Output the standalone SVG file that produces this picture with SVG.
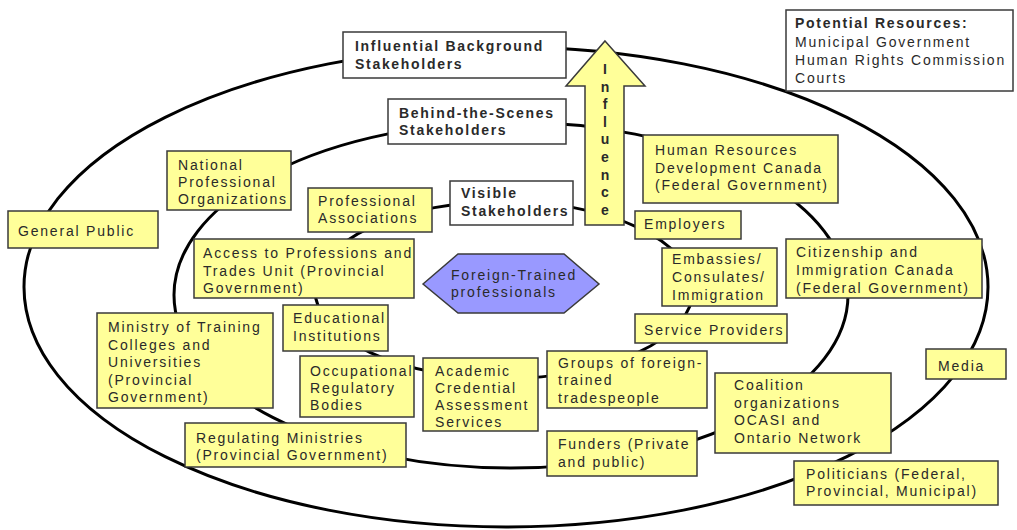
<svg xmlns="http://www.w3.org/2000/svg" width="1017" height="530" viewBox="0 0 1017 530">
<style>
.ring{fill:none;stroke:#000;stroke-width:3}
.box{fill:#ffff99;stroke:#3a3a3a;stroke-width:1.5}
.wbox{fill:#fff;stroke:#3a3a3a;stroke-width:1.5}
.hex{fill:#9999ff;stroke:#3a3a3a;stroke-width:1.5}
text{font-family:"Liberation Sans",Arial,sans-serif;font-size:14px;letter-spacing:1.8px;fill:#2a2a2a}
.b{font-weight:bold;letter-spacing:1.7px}
.v{font-weight:bold;letter-spacing:0;text-anchor:middle}
</style>
<rect width="1017" height="530" fill="#fff"/>
<g id="connectors">
<ellipse class="ring" cx="506" cy="287" rx="482" ry="240"/>
<ellipse class="ring" cx="511" cy="295" rx="337" ry="173"/>
<ellipse class="ring" cx="504" cy="290" rx="189" ry="88.6"/>
</g>
<g id="influential"><rect class="wbox" x="343" y="32" width="223" height="46"/><text class="b" x="355" y="51">Influential Background</text><text class="b" x="355" y="69">Stakeholders</text></g>
<g id="behind"><rect class="wbox" x="388" y="99" width="178" height="45"/><text class="b" x="399" y="118">Behind-the-Scenes</text><text class="b" x="399" y="135">Stakeholders</text></g>
<g id="visible"><rect class="wbox" x="450" y="181" width="123" height="44"/><text class="b" x="461" y="198">Visible</text><text class="b" x="461" y="216">Stakeholders</text></g>
<g id="influence"><polygon points="605,41 645,86 624,86 624,225 585,225 585,86 566,86" fill="#ffff99" stroke="#3a3a3a" stroke-width="1.5"/>
<text class="v" x="605" y="74">I</text><text class="v" x="605" y="91.6">n</text><text class="v" x="605" y="109.2">f</text><text class="v" x="605" y="126.8">l</text><text class="v" x="605" y="144.4">u</text><text class="v" x="605" y="162">e</text><text class="v" x="605" y="179.6">n</text><text class="v" x="605" y="197.2">c</text><text class="v" x="605" y="214.8">e</text></g>
<g id="potential"><rect class="wbox" x="786" y="10" width="227" height="81"/><text class="b" x="795" y="28">Potential Resources:</text><text x="795" y="47">Municipal Government</text><text x="795" y="65">Human Rights Commission</text><text x="795" y="83">Courts</text></g>
<g id="national"><rect class="box" x="167" y="151" width="124" height="59"/><text x="178" y="170">National</text><text x="178" y="187">Professional</text><text x="178" y="204">Organizations</text></g>
<g id="general"><rect class="box" x="8" y="211" width="150" height="37"/><text x="18" y="236">General Public</text></g>
<g id="profassoc"><rect class="box" x="308" y="188" width="124" height="44"/><text x="318" y="206">Professional</text><text x="318" y="223">Associations</text></g>
<g id="access"><rect class="box" x="194" y="239" width="220" height="59"/><text x="203" y="258">Access to Professions and</text><text x="203" y="276">Trades Unit (Provincial</text><text x="203" y="293">Government)</text></g>
<g id="educational"><rect class="box" x="283" y="305" width="105" height="46"/><text x="293" y="323">Educational</text><text x="293" y="341">Institutions</text></g>
<g id="ministry"><rect class="box" x="97" y="313" width="176" height="95"/><text x="108" y="332">Ministry of Training</text><text x="108" y="349.5">Colleges and</text><text x="108" y="367">Universities</text><text x="108" y="384.5">(Provincial</text><text x="108" y="402">Government)</text></g>
<g id="occupational"><rect class="box" x="300" y="356" width="114" height="61"/><text x="310" y="376">Occupational</text><text x="310" y="393">Regulatory</text><text x="310" y="410">Bodies</text></g>
<g id="academic"><rect class="box" x="423" y="358" width="115" height="73"/><text x="435" y="376">Academic</text><text x="435" y="393">Credential</text><text x="435" y="410">Assessment</text><text x="435" y="427">Services</text></g>
<g id="groups"><rect class="box" x="547" y="351" width="160" height="57"/><text x="558" y="368">Groups of foreign-</text><text x="558" y="385">trained</text><text x="558" y="403">tradespeople</text></g>
<g id="funders"><rect class="box" x="547" y="431" width="150" height="45"/><text x="558" y="449">Funders (Private</text><text x="558" y="467">and public)</text></g>
<g id="regulating"><rect class="box" x="185" y="423" width="221" height="44"/><text x="196" y="443">Regulating Ministries</text><text x="196" y="460">(Provincial Government)</text></g>
<g id="hrdc"><rect class="box" x="643" y="135" width="195" height="68"/><text x="655" y="155">Human Resources</text><text x="655" y="172.5">Development Canada</text><text x="655" y="190">(Federal Government)</text></g>
<g id="employers"><rect class="box" x="635" y="211" width="106" height="28"/><text x="644" y="229">Employers</text></g>
<g id="embassies"><rect class="box" x="662" y="248" width="115" height="58"/><text x="672" y="264">Embassies/</text><text x="672" y="282">Consulates/</text><text x="672" y="300">Immigration</text></g>
<g id="service"><rect class="box" x="635" y="314" width="152" height="29"/><text x="644" y="335">Service Providers</text></g>
<g id="citizenship"><rect class="box" x="786" y="239" width="196" height="59"/><text x="796" y="257">Citizenship and</text><text x="796" y="275">Immigration Canada</text><text x="796" y="293">(Federal Government)</text></g>
<g id="media"><rect class="box" x="926" y="349" width="80" height="30"/><text x="938" y="371">Media</text></g>
<g id="coalition"><rect class="box" x="715" y="373" width="176" height="80"/><text x="734" y="390">Coalition</text><text x="734" y="407.5">organizations</text><text x="734" y="425">OCASI and</text><text x="734" y="443">Ontario Network</text></g>
<g id="politicians"><rect class="box" x="794" y="461" width="204" height="44"/><text x="806" y="479">Politicians (Federal,</text><text x="806" y="496">Provincial, Municipal)</text></g>
<g id="foreign"><polygon class="hex" points="423,284 458,254 564,254 599,284 564,313 458,313"/><text x="451" y="280">Foreign-Trained</text><text x="451" y="297">professionals</text></g>
</svg>
